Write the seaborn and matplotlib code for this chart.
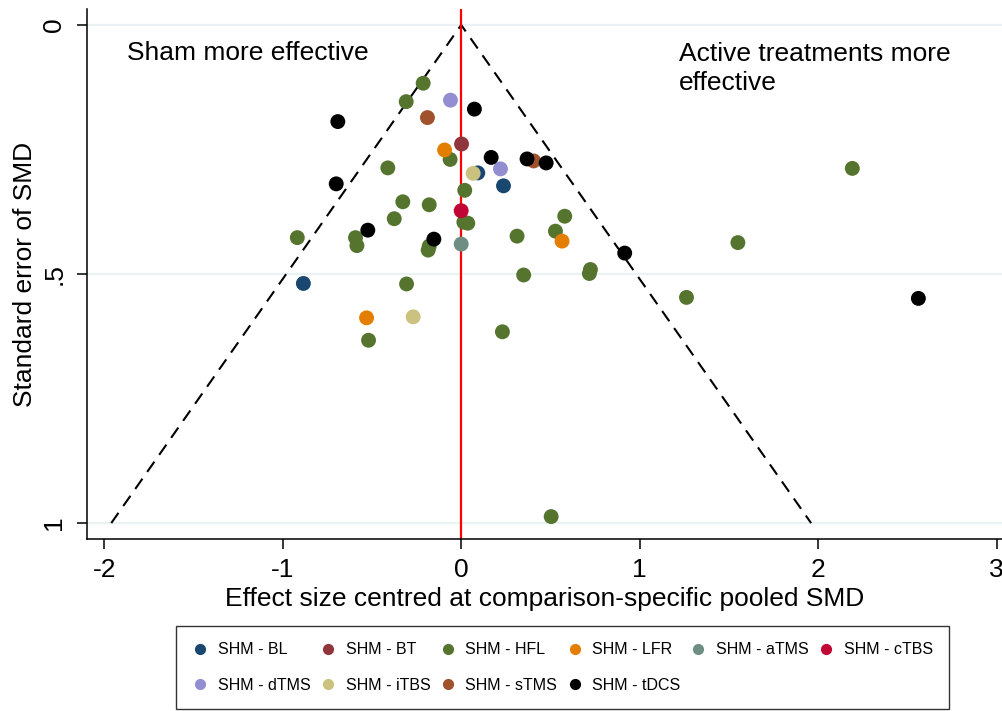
import matplotlib
matplotlib.use("Agg")
import matplotlib.pyplot as plt
import numpy as np
import pandas as pd
import seaborn as sns

# comparison groups in Stata draw order
groups = ["SHM - BL", "SHM - BT", "SHM - HFL", "SHM - LFR", "SHM - aTMS",
          "SHM - cTBS", "SHM - dTMS", "SHM - iTBS", "SHM - sTMS", "SHM - tDCS"]
colors = ["#1a476f", "#90353b", "#55752f", "#e37e00", "#6e8e84",
          "#c10534", "#938dd2", "#cac27e", "#a0522d", "#000000"]

# effect size (centred) and standard error per study, by comparison
bl_x = [0.093, 0.237, -0.884]
bl_se = [0.297, 0.323, 0.519]
bt_x = [0.002]
bt_se = [0.239]
hfl_x = [-0.213, -0.308, -0.062, -0.411, 0.020, -0.327, -0.179, -0.375, 0.580, 0.015,
         0.037, -0.918, -0.592, -0.584, -0.179, -0.185, 0.313, 0.528, 0.350, 0.724,
         0.718, -0.306, 0.231, -0.519, 2.191, 1.550, 1.262, 0.504]
hfl_se = [0.117, 0.154, 0.270, 0.287, 0.332, 0.355, 0.361, 0.389, 0.384, 0.396,
          0.398, 0.427, 0.427, 0.443, 0.444, 0.452, 0.424, 0.414, 0.502, 0.491,
          0.499, 0.520, 0.616, 0.633, 0.288, 0.437, 0.547, 0.987]
lfr_x = [-0.093, 0.565, -0.530]
lfr_se = [0.251, 0.434, 0.588]
atms_x = [0.0]
atms_se = [0.440]
ctbs_x = [0.0]
ctbs_se = [0.373]
dtms_x = [-0.060, 0.220]
dtms_se = [0.151, 0.289]
itbs_x = [0.067, -0.269]
itbs_se = [0.298, 0.586]
stms_x = [-0.189, 0.406]
stms_se = [0.186, 0.273]
tdcs_x = [0.074, -0.691, 0.168, 0.369, 0.476, -0.700, -0.523, -0.153, 0.916, 2.561]
tdcs_se = [0.169, 0.194, 0.266, 0.269, 0.277, 0.319, 0.412, 0.430, 0.458, 0.549]

xs = [bl_x, bt_x, hfl_x, lfr_x, atms_x, ctbs_x, dtms_x, itbs_x, stms_x, tdcs_x]
ses = [bl_se, bt_se, hfl_se, lfr_se, atms_se, ctbs_se, dtms_se, itbs_se, stms_se, tdcs_se]

df = pd.concat(
    [pd.DataFrame({"x": x, "se": s, "comparison": g}) for g, x, s in zip(groups, xs, ses)],
    ignore_index=True,
)

sns.set_style("white")
plt.rcParams["font.family"] = ["Liberation Sans", "DejaVu Sans"]
plt.rcParams.update({"text.color": "black", "axes.labelcolor": "black",
                     "xtick.color": "black", "ytick.color": "black"})

fig = plt.figure(figsize=(10.03, 7.11), dpi=100)
ax = fig.add_axes([87 / 1003, 1 - 539 / 711, 1 - 87 / 1003, (539 - 9) / 711])

# light gridlines at y ticks
for yv in [0, 0.5, 1]:
    ax.axhline(yv, color="#eaf2f3", lw=1.6, zorder=0)

# pseudo 95% CI funnel
ax.plot([-1.96, 0, 1.96], [1, 0, 1], color="black", lw=1.5, ls=(0, (6, 4)), zorder=1)
ax.axvline(0, color="red", lw=1.6, zorder=1.5)

sns.scatterplot(
    data=df, x="x", y="se", hue="comparison", hue_order=groups,
    palette=dict(zip(groups, colors)), s=115, linewidth=0, alpha=1,
    ax=ax, legend=True, zorder=2,
)

ax.set_xlim(-2.096, 3.035)
ax.set_ylim(1.032, -0.032)
ax.set_xticks([-2, -1, 0, 1, 2, 3])
ax.set_xticklabels(["-2", "-1", "0", "1", "2", "3"])
ax.set_yticks([0, 0.5, 1])
ax.set_yticklabels(["0", ".5", "1"], rotation=90, va="center")
ax.tick_params(axis="both", length=7, width=1.1, color="black", labelcolor="black",
               labelsize=19, direction="out", left=True, bottom=True)
ax.tick_params(axis="x", pad=7)
ax.tick_params(axis="y", pad=8)
ax.set_xlabel("Effect size centred at comparison-specific pooled SMD", fontsize=19,
              labelpad=3, color="black")
ax.set_ylabel("Standard error of SMD", fontsize=19, labelpad=4, color="black")

for side in ["top", "right"]:
    ax.spines[side].set_visible(False)
for side in ["left", "bottom"]:
    ax.spines[side].set_color("black")
    ax.spines[side].set_linewidth(1.1)

ax.text(-1.873, 0.0703, "Sham more effective", fontsize=19, va="baseline", ha="left",
        color="black")
ax.text(1.222, 0.1305, "Active treatments more\neffective", fontsize=19, va="baseline",
        ha="left", linespacing=1.25, color="black")

# legend filled row by row like Stata (matplotlib fills by column)
handles, labels = ax.get_legend_handles_labels()
ax.get_legend().remove()
order = [0, 6, 1, 7, 2, 8, 3, 9, 4, 5]
leg = fig.legend(
    [handles[i] for i in order], [labels[i] for i in order],
    loc="center", bbox_to_anchor=(562.5 / 1003, 1 - 667.5 / 711),
    ncol=6, frameon=True, fancybox=False, edgecolor="black", fontsize=11.5,
    markerscale=0.75, handletextpad=0.6, columnspacing=0.6, borderpad=1.0,
    labelspacing=1.3, handlelength=1.0, labelcolor="black",
)
leg.get_frame().set_linewidth(1.0)

fig.savefig("out.png", dpi=100)
